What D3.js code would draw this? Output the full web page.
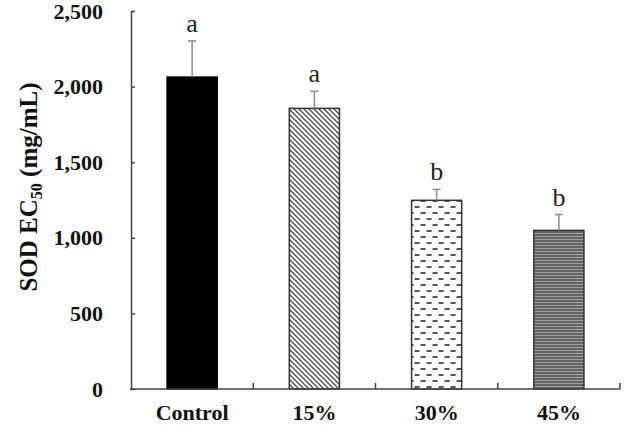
<!DOCTYPE html>
<head>
  <meta charset="utf-8">
  <script src="https://d3js.org/d3.v7.min.js"></script>
  <style>
    body { margin:0; background:#fff; }
    text { font-family: "Liberation Serif", "Times New Roman", serif; }
  </style>
</head>
<body>
<svg width="628" height="426"></svg>
<script>

// data
const groups  = ["Control", "15%", "30%", "45%"],
      means   = [2063, 1856, 1248, 1049],
      errs    = [239, 113, 72, 105],
      letters = ["a", "a", "b", "b"],
      fills   = ["solid", "diag", "dash", "hlines"],
      yTicks  = [0, 500, 1000, 1500, 2000, 2500]

const svg = d3.select("svg"),
      pLeft = 131, pRight = 620, pTop = 11, pBottom = 389

const x = d3.scaleBand().domain(groups).range([pLeft, pRight]).paddingInner(0.59).paddingOuter(0.295)
const y = d3.scaleLinear().domain([0, 2500]).range([pBottom, pTop])

// fill patterns
const defs = svg.append("defs")

const diag = defs.append("pattern").attr("id", "diag")
    .attr("patternUnits", "userSpaceOnUse").attr("width", 5).attr("height", 5)
diag.append("rect").attr("width", 5).attr("height", 5).attr("fill", "#fff")
diag.append("path").attr("d", "M0,0L5,5M-1,4L1,6M4,-1L6,1")
    .attr("stroke", "#555").attr("stroke-width", 1.5)

const dash = defs.append("pattern").attr("id", "dash")
    .attr("patternUnits", "userSpaceOnUse").attr("width", 12).attr("height", 12)
    .attr("x", x("30%") + 2)
dash.append("rect").attr("width", 12).attr("height", 12).attr("fill", "#fff")
dash.append("path").attr("d", "M1,3h5M7,9h5M-5,9h5")
    .attr("stroke", "#555").attr("stroke-width", 1.8)

const hl = defs.append("pattern").attr("id", "hlines")
    .attr("patternUnits", "userSpaceOnUse").attr("width", 4).attr("height", 3)
hl.append("rect").attr("width", 4).attr("height", 3).attr("fill", "#a0a0a0")
hl.append("path").attr("d", "M0,1h4").attr("stroke", "#444").attr("stroke-width", 1.3)

// bars
svg.append("g").selectAll("rect")
  .data(groups)
  .enter().append("rect")
    .attr("x", d => x(d))
    .attr("y", (d, i) => y(means[i]))
    .attr("width", x.bandwidth())
    .attr("height", (d, i) => pBottom - y(means[i]))
    .attr("fill", (d, i) => fills[i] === "solid" ? "#000" : "url(#" + fills[i] + ")")
    .attr("stroke", (d, i) => i === 0 ? "#000" : "#333")
    .attr("stroke-width", 1.5)

// error bars (upper only)
const eb = svg.append("g").attr("stroke", "#8c8c8c").attr("stroke-width", 1.5)
groups.forEach(function(g, i) {
  const cx = x(g) + x.bandwidth() / 2
  eb.append("line").attr("x1", cx).attr("x2", cx)
    .attr("y1", y(means[i])).attr("y2", y(means[i] + errs[i]))
  eb.append("line").attr("x1", cx - 4).attr("x2", cx + 4)
    .attr("y1", y(means[i] + errs[i])).attr("y2", y(means[i] + errs[i]))
})

// significance letters
svg.append("g").selectAll("text")
  .data(groups)
  .enter().append("text")
    .attr("x", d => x(d) + x.bandwidth() / 2)
    .attr("y", (d, i) => y(means[i] + errs[i]) - 9)
    .attr("text-anchor", "middle")
    .attr("font-size", 26)
    .attr("fill", "#222")
    .text((d, i) => letters[i])

// y axis
const yAxis = svg.append("g")
    .attr("transform", "translate(" + pLeft + ",0)")
    .call(d3.axisLeft(y).tickValues(yTicks).tickFormat(d3.format(","))
      .tickSizeInner(-4).tickSizeOuter(0).tickPadding(28))
yAxis.selectAll("line, path").attr("stroke", "#444").attr("stroke-width", 1.5)
yAxis.selectAll("text")
    .attr("font-size", 22).attr("font-weight", "bold").attr("fill", "#111")
    .attr("font-family", "'Liberation Serif', serif")

// x axis: line, boundary ticks, labels
const xg = svg.append("g")
xg.append("line").attr("x1", pLeft - 1).attr("x2", pRight).attr("y1", pBottom).attr("y2", pBottom)
    .attr("stroke", "#444").attr("stroke-width", 1.5)
xg.selectAll(".bnd")
  .data(groups)
  .enter().append("line")
    .attr("x1", d => x(d) + x.bandwidth() + x.step() * x.paddingInner() / 2)
    .attr("x2", d => x(d) + x.bandwidth() + x.step() * x.paddingInner() / 2)
    .attr("y1", pBottom).attr("y2", pBottom - 6)
    .attr("stroke", "#444").attr("stroke-width", 1.5)
xg.selectAll("text")
  .data(groups)
  .enter().append("text")
    .attr("x", d => x(d) + x.bandwidth() / 2)
    .attr("y", 420)
    .attr("text-anchor", "middle")
    .attr("font-size", 22).attr("font-weight", "bold").attr("fill", "#111")
    .text(d => d)

// y title
const title = svg.append("text")
    .attr("transform", "translate(37," + 187 + ") rotate(-90)")
    .attr("text-anchor", "middle")
    .attr("font-size", 25).attr("font-weight", "bold").attr("fill", "#111")
title.append("tspan").text("SOD EC")
title.append("tspan").attr("font-size", 16).attr("dy", 5).text("50")
title.append("tspan").attr("dy", -5).text(" (mg/mL)")

</script>
</body>
